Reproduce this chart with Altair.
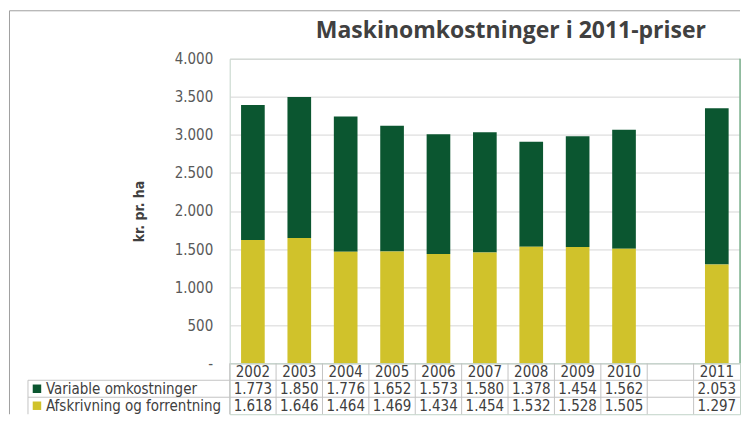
import altair as alt
import pandas as pd

# ---- data ----
years = ["2002", "2003", "2004", "2005", "2006", "2007", "2008", "2009", "2010", "2011"]
slots = ["2002", "2003", "2004", "2005", "2006", "2007", "2008", "2009", "2010", " ", "2011"]
variable = [1773, 1850, 1776, 1652, 1573, 1580, 1378, 1454, 1562, 2053]
afskriv = [1618, 1646, 1464, 1469, 1434, 1454, 1532, 1528, 1505, 1297]
series = ["Variable omkostninger", "Afskrivning og forrentning"]
colors = ["#0b5630", "#d0c22b"]
y_ticks = [0, 500, 1000, 1500, 2000, 2500, 3000, 3500, 4000]
chart_title = "Maskinomkostninger i 2011-priser"
y_title = "kr. pr. ha"
header_key = "hdr"
rows = [header_key] + series

W, H = 511, 305
TH = 51
FONT = "DejaVu Sans Condensed"
TXT = "#404040"
LINE = "#c4c4c4"

# ---- tables ----
bar_rows = []
for i, yr in enumerate(years):
    bar_rows.append({"year": yr, "series": series[0], "value": variable[i], "ord": 1})
    bar_rows.append({"year": yr, "series": series[1], "value": afskriv[i], "ord": 0})
bar_df = pd.DataFrame(bar_rows)

cell_rows = []
for i, yr in enumerate(years):
    cell_rows.append({"year": yr, "row": header_key, "txt": yr})
    cell_rows.append({"year": yr, "row": series[0], "txt": f"{variable[i]:,}".replace(",", ".")})
    cell_rows.append({"year": yr, "row": series[1], "txt": f"{afskriv[i]:,}".replace(",", ".")})
cell_df = pd.DataFrame(cell_rows)

label_df = pd.DataFrame({"row": series, "series": series})
slot_df = pd.DataFrame({"year": slots})
one = pd.DataFrame({"a": [0]})

color_scale = alt.Scale(domain=series, range=colors)

# ---- top: stacked bars ----
bars = alt.Chart(bar_df).mark_bar().encode(
    x=alt.X("year:N", scale=alt.Scale(domain=slots, paddingInner=0.49, paddingOuter=0.245), axis=None),
    y=alt.Y(
        "value:Q",
        stack="zero",
        scale=alt.Scale(domain=[0, 4000], nice=False),
        axis=alt.Axis(
            values=y_ticks,
            title=y_title,
            labelExpr="datum.value == 0 ? '-' : replace(format(datum.value, ','), ',', '.')",
            grid=True, gridColor="#d6d6d6",
            domain=False, ticks=False, labelPadding=17,
            labelFont=FONT, labelFontSize=15, labelColor="#595959",
            titleFont=FONT, titleFontSize=14, titleFontWeight="bold", titleColor=TXT,
            titleX=-90, titleY=H / 2, titleAngle=270, titleBaseline="middle", titleAlign="center",
        ),
    ),
    color=alt.Color("series:N", scale=color_scale, legend=None),
    order=alt.Order("ord:Q"),
)

right_border = alt.Chart(one).mark_rule(color="#7fb391", strokeWidth=1.5).encode(
    x=alt.value(W), y=alt.value(0), y2=alt.value(H)
)

top = alt.layer(bars, right_border).properties(
    width=W, height=H,
    title=alt.TitleParams(
        text=chart_title, font="Open Sans", fontSize=23, fontWeight="bold", color=TXT,
        anchor="middle", frame="group", dx=26, offset=9,
    ),
)

# ---- bottom: data table ----
yscale = alt.Scale(domain=rows, paddingInner=0, paddingOuter=0)
xscale = alt.Scale(domain=slots, paddingInner=0, paddingOuter=0)

cells = alt.Chart(cell_df).mark_text(font=FONT, fontSize=15, color=TXT).encode(
    x=alt.X("year:N", scale=xscale, axis=None),
    y=alt.Y("row:N", scale=yscale, axis=None),
    text="txt:N",
)

row_labels = alt.Chart(label_df).mark_text(font=FONT, fontSize=15, color=TXT, align="left").encode(
    x=alt.value(-184), y=alt.Y("row:N", scale=yscale, axis=None), text="row:N"
)

squares = alt.Chart(label_df).mark_square(size=72, opacity=1).encode(
    x=alt.value(-193), y=alt.Y("row:N", scale=yscale, axis=None),
    color=alt.Color("series:N", scale=color_scale, legend=None),
)

vlines = alt.Chart(slot_df).mark_rule(color=LINE).encode(
    x=alt.X("year:N", scale=xscale, axis=None, bandPosition=0),
    y=alt.value(0), y2=alt.value(TH),
)

hlines = alt.Chart(label_df).mark_rule(color=LINE).encode(
    y=alt.Y("row:N", scale=yscale, axis=None, bandPosition=0),
    x=alt.value(-202), x2=alt.value(W),
)

vline = alt.Chart(label_df.iloc[:1]).mark_rule(color=LINE).encode(
    y=alt.Y("row:N", scale=yscale, axis=None, bandPosition=0),
    y2=alt.value(TH),
    x=alt.value(-202),
)

frame_left = alt.Chart(one).mark_rule(color="#a0a0a0").encode(
    x=alt.value(-220.5), y=alt.value(-(H + 48)), y2=alt.value(TH)
)
frame_top = alt.Chart(one).mark_rule(color="#a0a0a0").encode(
    x=alt.value(-220.5), x2=alt.value(W), y=alt.value(-(H + 48))
)

table = alt.layer(vlines, hlines, vline, cells, row_labels, squares, frame_left, frame_top).properties(
    width=W, height=TH
)

chart = alt.vconcat(top, table, spacing=0, bounds="flush").properties(
    padding={"left": 0, "top": 1.5, "right": 0, "bottom": 0}
).configure_view(stroke="#c2d3c8")

chart.save("out.html", embed_options={"renderer": "svg", "actions": False})
